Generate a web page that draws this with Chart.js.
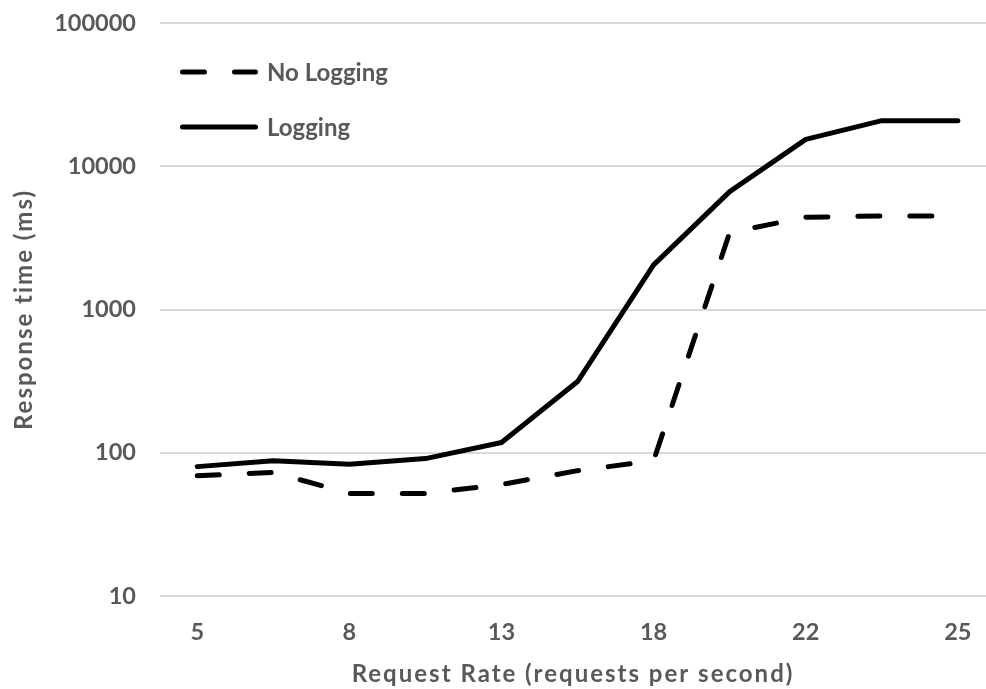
<!DOCTYPE html>
<html>
<head>
<meta charset="utf-8">
<script src="https://cdn.jsdelivr.net/npm/chart.js@4.4.1/dist/chart.umd.min.js"></script>
<style>
  html, body { margin: 0; padding: 0; background: #ffffff; overflow: hidden; }
  #wrap { width: 986px; height: 689px; position: relative; }
</style>
</head>
<body>
<div id="wrap"><canvas id="c" width="986" height="689"></canvas></div>
<script>
// ---- Data ----
const categories = ['5', '', '8', '', '13', '', '18', '', '22', '', '25'];
const noLogging = [69, 73, 52, 52, 60, 75, 88, 3450, 4400, 4500, 4500];
const logging   = [80, 88, 83, 91, 118, 314, 2050, 6650, 15400, 20800, 20800];
const yTicks = [10, 100, 1000, 10000, 100000];
const seriesNames = ['No Logging', 'Logging'];
const xTitle = 'Request Rate (requests per second)';
const yTitle = 'Response time (ms)';

const FONT = 'Lato, "Open Sans", sans-serif';
const GREY = '#595959';
const CLEAR = 'rgba(0,0,0,0)';

const toPoints = arr => arr.map((v, i) => ({ x: i, y: v }));

// Axis titles in the reference are set with wide tracking.
const spacedTitles = {
  id: 'spacedTitles',
  beforeDraw(chart) {
    Object.values(chart.scales).forEach(s => {
      if (s._spacedTitle) return;
      const orig = s.drawTitle;
      s.drawTitle = function (...args) {
        const prev = this.ctx.letterSpacing;
        this.ctx.letterSpacing = '2px';
        orig.apply(this, args);
        this.ctx.letterSpacing = prev || '0px';
      };
      s._spacedTitle = true;
    });
  }
};

const legendPlugin = {
  id: 'insideLegend',
  afterDraw(chart) {
    const ctx = chart.ctx;
    const rows = [72, 127];
    chart.data.datasets.forEach((ds, i) => {
      const y = rows[i];
      ctx.save();
      ctx.strokeStyle = ds.borderColor;
      ctx.lineWidth = ds.borderWidth;
      ctx.lineCap = 'round';
      ctx.setLineDash(ds.borderDash || []);
      ctx.beginPath();
      ctx.moveTo(182.5, y);
      ctx.lineTo(255.5, y);
      ctx.stroke();
      ctx.setLineDash([]);
      ctx.fillStyle = GREY;
      ctx.font = 'bold 24px ' + FONT;
      ctx.textBaseline = 'middle';
      ctx.textAlign = 'left';
      ctx.fillText(ds.label, 267, y + 1);
      ctx.restore();
    });
  }
};

new Chart(document.getElementById('c'), {
  type: 'line',
  data: {
    datasets: [
      {
        label: seriesNames[0],
        data: toPoints(noLogging),
        borderColor: '#000000',
        borderWidth: 5,
        borderDash: [22, 30],
        borderCapStyle: 'round',
        borderJoinStyle: 'round',
        pointRadius: 0,
        fill: false,
        tension: 0
      },
      {
        label: seriesNames[1],
        data: toPoints(logging),
        borderColor: '#000000',
        borderWidth: 5,
        borderCapStyle: 'round',
        borderJoinStyle: 'round',
        pointRadius: 0,
        fill: false,
        tension: 0
      }
    ]
  },
  options: {
    responsive: false,
    animation: false,
    devicePixelRatio: 1,
    layout: { padding: { top: 23, right: 0, bottom: 0, left: 0 } },
    plugins: {
      legend: { display: false },
      tooltip: { enabled: false }
    },
    scales: {
      x: {
        type: 'linear',
        min: -0.49,
        max: 10.37,
        afterBuildTicks(scale) {
          scale.ticks = categories.map((c, i) => ({ value: i })).filter((t, i) => categories[i] !== '');
        },
        afterFit(scale) { scale.height = 93; },
        grid: { display: true, color: CLEAR, tickColor: CLEAR, drawTicks: true, tickLength: 22, drawOnChartArea: false },
        border: { display: false },
        ticks: {
          autoSkip: false,
          maxRotation: 0,
          padding: 0,
          color: GREY,
          font: { family: FONT, size: 23.5, weight: 'bold' },
          callback: (v) => categories[Math.round(v)]
        },
        title: {
          display: true,
          text: xTitle,
          color: GREY,
          font: { family: FONT, size: 24, weight: 'bold', lineHeight: 1.25 },
          padding: { top: 7, bottom: 0 }
        }
      },
      y: {
        type: 'logarithmic',
        min: 10,
        max: 100000,
        afterBuildTicks(scale) {
          scale.ticks = yTicks.map(v => ({ value: v, major: true }));
        },
        afterFit(scale) { scale.width = 160; },
        grid: { color: '#d9d9d9', lineWidth: 2, drawTicks: true, tickLength: 24, tickColor: CLEAR },
        border: { display: false },
        ticks: {
          padding: 0,
          color: GREY,
          font: { family: FONT, size: 23.5, weight: 'bold' },
          callback: (v) => String(v)
        },
        title: {
          display: true,
          text: yTitle,
          color: GREY,
          font: { family: FONT, size: 24, weight: 'bold' },
          padding: { top: 10, bottom: 0 }
        }
      }
    }
  },
  plugins: [spacedTitles, legendPlugin]
});
</script>
</body>
</html>
